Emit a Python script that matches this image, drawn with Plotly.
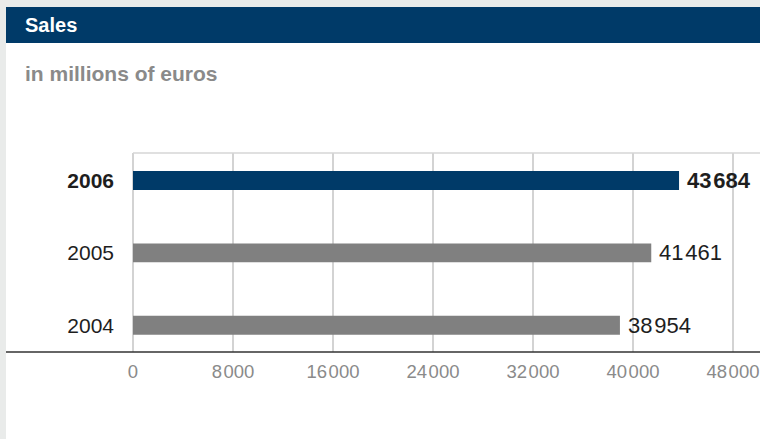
import plotly.graph_objects as go

years = ["2004", "2005", "2006"]
sales = [38954, 41461, 43684]
bar_colors = ["#808080", "#808080", "#003a68"]
x_ticks = [0, 8000, 16000, 24000, 32000, 40000, 48000]
title = "Sales"
subtitle = "in millions of euros"

W, H = 760, 439
L, R, T, B = 133, 0, 153, 87
pw = W - L - R
ph = H - T - B

def fmt(v):
    return f"{v:,}".replace(",", "\u200a")

def px(x):
    return (x - L) / pw

def py(y):
    return (H - B - y) / ph

FONT = "Liberation Sans, Arial, sans-serif"
NARROW = "Liberation Sans Narrow, Arial Narrow, Liberation Sans, sans-serif"

fig = go.Figure()
fig.add_trace(go.Bar(
    y=years, x=sales, orientation="h",
    marker=dict(color=bar_colors, line=dict(width=0)),
    width=0.262, hoverinfo="skip",
))

ann = []
for i, (yr, v) in enumerate(zip(years, sales)):
    bold = yr == "2006"
    ann.append(dict(
        x=v, y=i, xref="x", yref="y", xanchor="left", yanchor="middle",
        xshift=6, showarrow=False,
        text=f"<b>{fmt(v)}</b>" if bold else fmt(v),
        font=dict(family=FONT, size=22, color="#1e1e1e"),
    ))
ann.append(dict(x=px(23), y=py(25), xref="paper", yref="paper", xanchor="left",
                yanchor="middle", showarrow=False, text=f"<b>{title}</b>",
                font=dict(family=FONT, size=20, color="white")))
ann.append(dict(x=px(23), y=py(73), xref="paper", yref="paper", xanchor="left",
                yanchor="middle", showarrow=False, text=f"<b>{subtitle}</b>",
                font=dict(family=FONT, size=21, color="#8a8a8a")))

shapes = [
    dict(type="rect", xref="paper", yref="paper", x0=px(6), x1=px(W + 5),
         y0=py(H + 5), y1=py(43), fillcolor="white", line=dict(width=0), layer="below"),
    dict(type="rect", xref="paper", yref="paper", x0=px(6), x1=px(W + 5),
         y0=py(43), y1=py(7), fillcolor="#003a68", line=dict(width=0), layer="below"),
    dict(type="line", xref="paper", yref="paper", x0=0, x1=px(W + 5),
         y0=1, y1=1, line=dict(color="#d6d6d6", width=1.5)),
    dict(type="line", xref="paper", yref="paper", x0=px(6), x1=px(W + 5),
         y0=0, y1=0, line=dict(color="#333333", width=1.5)),
]

fig.update_layout(
    width=W, height=H,
    margin=dict(l=L, r=R, t=T, b=B, pad=0),
    paper_bgcolor="#e9ebea", plot_bgcolor="rgba(0,0,0,0)",
    showlegend=False,
    annotations=ann, shapes=shapes,
    xaxis=dict(range=[0, pw * 80], tickvals=x_ticks,
               ticktext=[fmt(v) for v in x_ticks],
               showgrid=True, gridcolor="#d3d3d3", gridwidth=1.5,
               zeroline=True, zerolinecolor="#d3d3d3", zerolinewidth=1.5,
               showline=False, ticks="", ticklabelstandoff=6,
               ticklabeloverflow="allow",
               tickfont=dict(family=NARROW, size=18.5, color="#8a8a8a"),
               fixedrange=True),
    yaxis=dict(range=[-0.37, 2.38], type="category",
               tickvals=years,
               ticktext=[f"<b>{y}</b>" if y == "2006" else y for y in years],
               showgrid=False, zeroline=False, showline=False, ticks="",
               ticklabelstandoff=18,
               tickfont=dict(family=FONT, size=21, color="#1e1e1e"),
               fixedrange=True),
)

fig.write_html("out.html", config={"displayModeBar": False},
               post_script="document.body.style.margin='0';document.body.style.overflow='hidden';")
